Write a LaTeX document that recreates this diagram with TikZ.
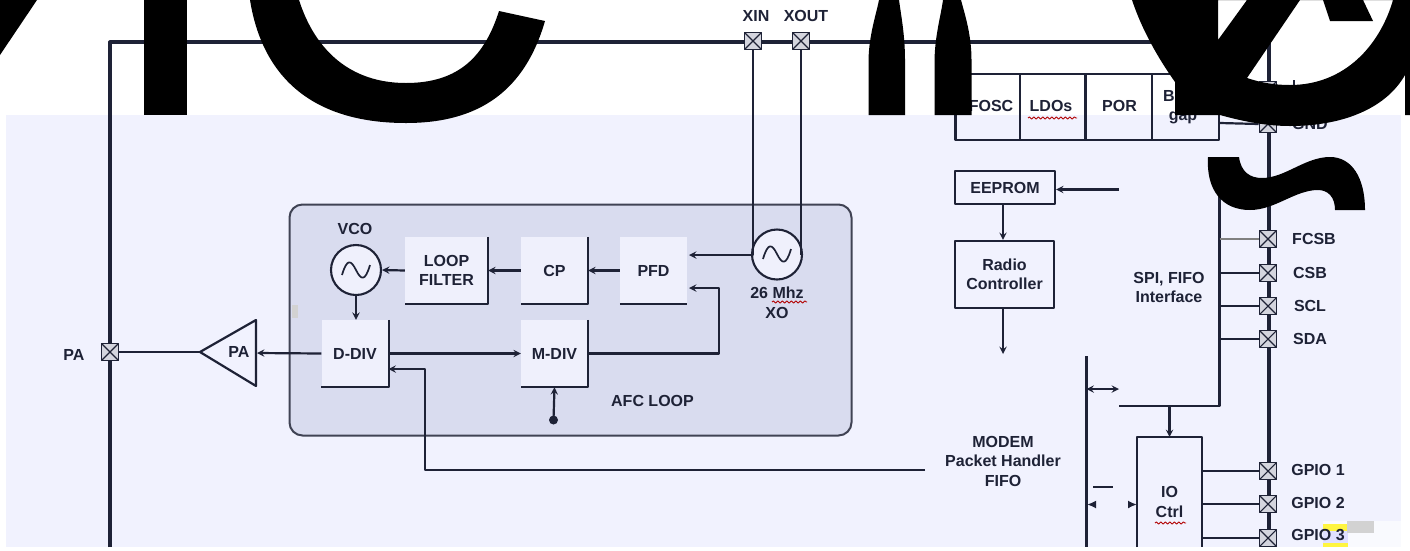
\documentclass[tikz,border=0pt]{standalone}
\usepackage{fontspec}
\setmainfont{Liberation Sans}
\usetikzlibrary{decorations.pathmorphing,arrows.meta}
\definecolor{inkline}{HTML}{1E2236}
\definecolor{paleback}{HTML}{F1F2FE}
\definecolor{afcfill}{HTML}{D9DCEF}
\definecolor{blockfill}{HTML}{EFF0FC}
\definecolor{padfill}{HTML}{D4D5DE}
\tikzset{
  lbl/.style={text=inkline,font=\bfseries\fontsize{16}{19.5}\selectfont,align=center,inner sep=0pt},
  wire/.style={draw=inkline,line width=2.2pt},
  rail/.style={draw=inkline,line width=3.2pt},
  pad/.style={draw=inkline,fill=padfill,line width=1.6pt,minimum size=17pt,inner sep=0pt,
    path picture={\draw[inkline,line width=1.1pt] (path picture bounding box.north west) -- (path picture bounding box.south east) (path picture bounding box.north east) -- (path picture bounding box.south west);}},
  blockbox/.style={lbl,fill=blockfill,minimum width=67pt,minimum height=67pt},
  plainbox/.style={lbl,draw=inkline,line width=2.2pt},
  osc/.style={draw=inkline,fill=blockfill,line width=2.1pt,circle,minimum size=50pt,inner sep=0pt},
  spell/.style={draw=red!70!black,line width=0.9pt,decorate,decoration={snake,amplitude=1.1pt,segment length=4.5pt}},
}
\begin{document}
\begin{tikzpicture}[x=1pt,y=-1pt,>=stealth,line join=round]
\clip (0,0) rectangle (1410,550);
\fill[white] (0,0) rectangle (1410,550);
\fill[paleback] (6,115) rectangle (1401,547);
% patches at the lower right
\fill[white!60!paleback] (1323,521) rectangle (1401,547);
\fill[yellow!75!white] (1323,524) rectangle (1348,547);
\fill[blue!12!white] (1323,531) rectangle (1348,543);
\fill[gray!35] (1347,521) rectangle (1374,533);
% chip outline
\draw[rail] (110,547) -- (110,42) -- (1269,42) -- (1269,547);
% afc loop
\node[draw=inkline!85,fill=afcfill,line width=2pt,rounded corners=13pt,minimum width=562pt,minimum height=231pt,inner sep=0pt] (afc) at (570.5,320) {};
\fill[gray!35] (292,305) rectangle (298,318);
\node[blockbox,minimum width=83pt] (filter) at (446.5,270.5) {LOOP\\FILTER};
\node[blockbox] (cp) at (554.5,270.5) {CP};
\node[blockbox] (pfd) at (653.5,270.5) {PFD};
\node[blockbox] (ddiv) at (355,353.5) {D-DIV};
\node[blockbox] (mdiv) at (554.5,353.5) {M-DIV};
\foreach \nm in {filter,cp,ddiv,mdiv}
  \draw[wire] (\nm.north east) -- (\nm.south east) -- (\nm.south west);
\draw[wire] (pfd.south west) -- (pfd.south east);
\node[osc] (vco) at (356,270) {};
\node[osc] (xo) at (777,254.5) {};
\draw[inkline,line width=1.7pt] (342,275) .. controls (347,258) and (351,260) .. (356,270) .. controls (361,280) and (365,282) .. (370,265);
\draw[inkline,line width=1.7pt] (763,259) .. controls (768,242) and (772,244) .. (777,254) .. controls (782,264) and (786,266) .. (791,249);
\node[lbl] (vcotext) at (355,228.5) {VCO};
\node[lbl] (xotext) at (777,303) {26 Mhz\\XO};
\node[lbl] (afctext) at (652.5,401) {AFC LOOP};
\fill[inkline] (553.5,420) circle (4.5) coordinate (dot);
% pads
\foreach \nm/\px/\py in {xin/753/41,xout/801/41,pada/110/352,vpad/1268/90,gnd/1268/124,fcsb/1268/239,csb/1268/273,scl/1268/306,sda/1268/339,gpa/1268/471,gpb/1268/504,gpc/1268/538}
  \node[pad] (\nm) at (\px,\py) {};
\foreach \nm/\px/\py/\tx in {lxin/756/16/XIN,lxout/806/16/XOUT,lpa/74/355/PA,lgnd/1310/124/GND,lfcsb/1314/239/FCSB,lcsb/1310/273/CSB,lscl/1310/306/SCL,lsda/1310/339/SDA,lga/1318/470/GPIO 1,lgb/1318/503/GPIO 2,lgc/1318/535/GPIO 3}
  \node[lbl] (\nm) at (\px,\py) {\tx};
\draw[inkline,line width=1.6pt] (1294,80) -- (1294,88);
% power amplifier
\draw[wire,fill=paleback] (256,320) coordinate (patop) -- (200,352) coordinate (patip) -- (256,386) coordinate (pabot) -- cycle;
\node[lbl] (patext) at (239,352) {PA};
\coordinate (pain) at (257,353);
% right side blocks
\draw[plainbox] (955.5,74) rectangle (1219,140);
\foreach \px in {1020,1085.5,1152} \draw[wire] (\px,74) -- (\px,140);
\node[lbl] (fosc) at (991,106) {FOSC};
\node[lbl] (ldo) at (1051,106) {LDOs};
\node[lbl] (por) at (1119.5,106) {POR};
\node[lbl] (bandgap) at (1183,107) {Band\\gap};
\node[plainbox,minimum width=100pt,minimum height=33pt,inner sep=0pt] (eeprom) at (1005,187.5) {EEPROM};
\node[plainbox,minimum width=99pt,minimum height=67pt,inner sep=0pt] (radio) at (1004.5,274.5) {Radio\\Controller};
\node[lbl] (spi) at (1169,287.5) {SPI, FIFO\\Interface};
\node[lbl] (modem) at (1003,461) {MODEM\\Packet Handler\\FIFO};
\node[lbl] (ioctrl) at (1169.5,502) {IO\\Ctrl};
\coordinate (ionw) at (1137,437);
\coordinate (ione) at (1202,437);
\draw[wire] (1137,547) -- (ionw) -- (ione) -- (1202,547);
% spelling marks
\draw[spell] (1028,118) -- (1077,118);
\draw[spell] (772,302) -- (807,302);
\draw[spell] (1155,523) -- (1186,523);
% connectors
\coordinate (pfdup) at (689,255);
\coordinate (pfddn) at (689,288);
\draw[wire,->] (xin.south) |- (pfdup);
\draw[wire] (xout.south) -- (xout.south |- xo.east);
\draw[wire,->] (pfd.west) -- (cp.east);
\draw[wire,->] (cp.west) -- (filter.east);
\draw[wire,->] (filter.west) -- (vco.east);
\draw[wire,->] (vco.south) -- (ddiv.north -| vco.south);
\draw[wire,->] (ddiv.east) -- (mdiv.west);
\draw[wire,->] (mdiv.east) -| (719,288) -- (pfddn);
\draw[wire,->] (dot) -- (mdiv.south);
\draw[wire,->] (ddiv.west) -- (pain);
\draw[wire] (patip) -- (pada.east);
\coordinate (modemin) at (925,470);
\draw[wire,->] (modemin) -| (425,369) -- (388.5,369);
\draw[wire] (1220,123) -- (gnd.west);
\coordinate (eefrom) at (1119,189.5);
\draw[wire,->] (eefrom) -- (eefrom -| eeprom.east);
\draw[wire,->] (eeprom.south -| 1003,0) -- (radio.north -| 1003,0);
\coordinate (radout) at (1003,354);
\draw[wire,->] (radio.south -| radout) -- (radout);
\draw[wire] (1219.5,175) -- (1219.5,406) -- (1119,406);
\draw[wire,draw=gray] (1219.5,239) -- (fcsb.west);
\foreach \nm in {csb,scl,sda} \draw[wire] (\nm.west -| 1219.5,0) -- (\nm.west);
\foreach \nm in {gpa,gpb,gpc} \draw[wire] (\nm.west -| ione) -- (\nm.west);
\draw[wire,->] (1169.5,406) -- (1169.5,437);
\draw[wire] (1086.5,356) -- (1086.5,547);
\draw[wire,<->] (1086.5,389) -- (1119,389);
\draw[wire] (1093,487) -- (1113,487);
\draw[wire,-{Latex[length=9pt,width=8pt]}] (1096,504.5) -- (1087,504.5);
\draw[wire,-{Latex[length=9pt,width=8pt]}] (1128,504.5) -- (1137,504.5);
% large black shapes on top
\fill[black] (0,0) -- (37,0) -- (0,55) -- cycle;
\fill[black] (144,0) rectangle (187,115);
\fill[black] (250,0) .. controls (262,75) and (310,123) .. (406,123) .. controls (480,123) and (525,90) .. (545,21) -- (499,11) .. controls (485,55) and (460,83) .. (406,83) .. controls (350,83) and (315,50) .. (299,0) -- cycle;
\fill[black] (868.5,115) -- (868.5,60) .. controls (869,35) and (876,15) .. (879,0) -- (899,0) .. controls (901,15) and (905,35) .. (905,60) -- (905,115) -- cycle;
\fill[black] (934.5,115) -- (934.5,60) .. controls (935,35) and (941,15) .. (943,0) -- (961,0) .. controls (965,15) and (971.5,35) .. (971.5,60) -- (971.5,115) -- cycle;
\fill[black,even odd rule] (1132,0) .. controls (1142,30) and (1158,58) .. (1175,82) -- (1175,115) -- (1220,115) .. controls (1245,122) and (1268,126) .. (1290,126) .. controls (1340,126) and (1385,110) .. (1405,75) -- (1405,115) -- (1410,115) -- (1410,0) -- cycle
  (1218,0) -- (1247,0) -- (1218,40) -- cycle
  (1300,0) -- (1247,78) .. controls (1262,83) and (1275,85) .. (1290,85) .. controls (1345,85) and (1380,45) .. (1393,0) -- cycle
  (1323,0) -- (1363,0) -- (1373,21) -- (1330,21) -- cycle;
\fill[black] (1208,157) -- (1239,157) .. controls (1241,172) and (1250,178) .. (1262,178) .. controls (1285,178) and (1305,157) .. (1330,157) .. controls (1352,157) and (1365,178) .. (1365,210) -- (1335,210) .. controls (1335,197) and (1328,190) .. (1318,190) .. controls (1295,190) and (1275,210) .. (1250,210) .. controls (1222,210) and (1206,190) .. (1208,157) -- cycle;
\end{tikzpicture}
\end{document}
